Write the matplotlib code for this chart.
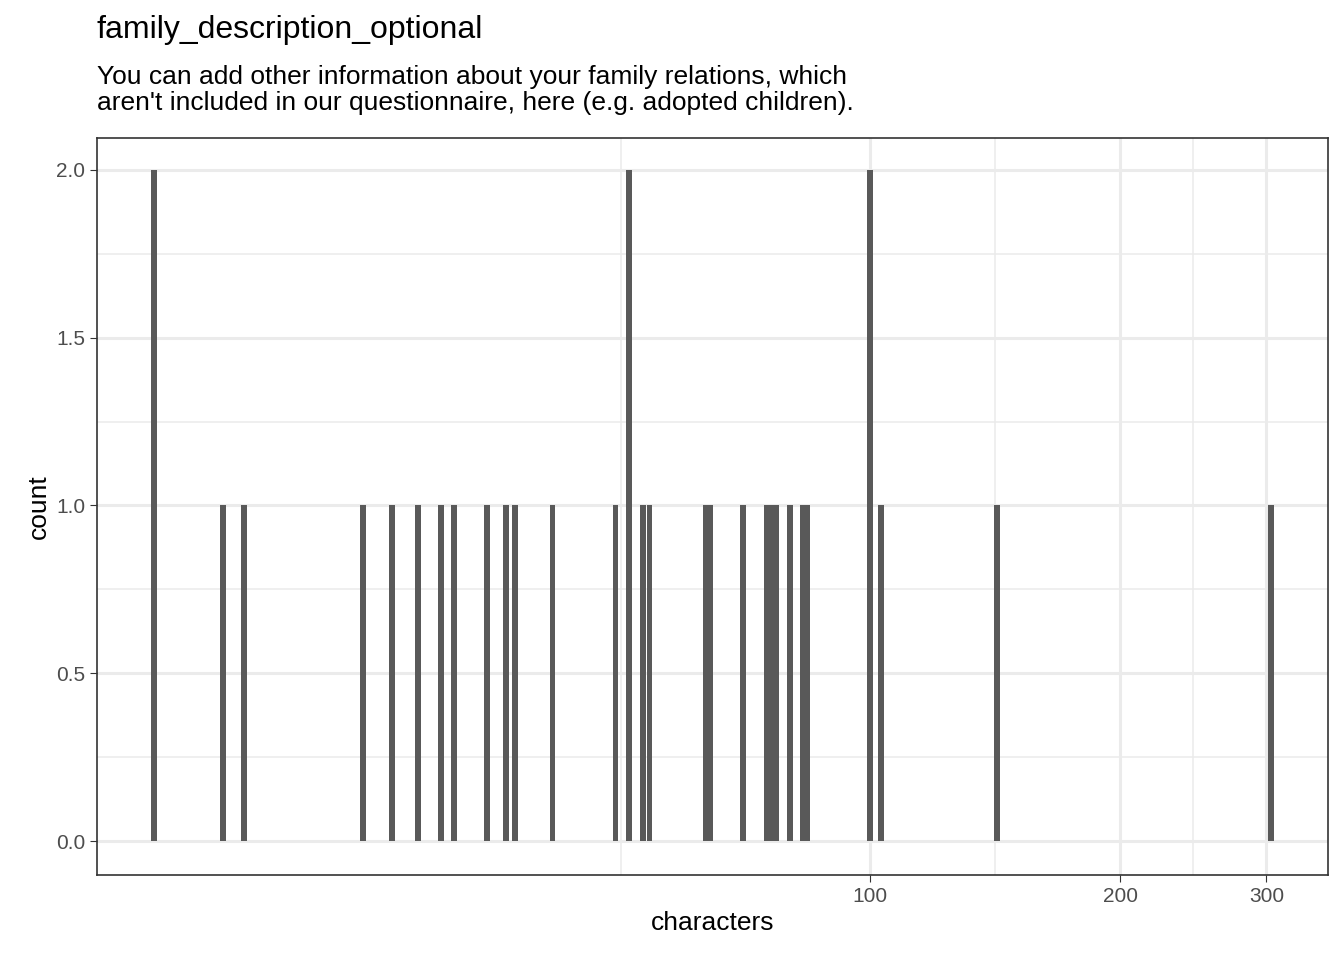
import numpy as np
import matplotlib.pyplot as plt

plt.rcParams['font.family'] = ['Liberation Sans', 'DejaVu Sans']

chars = [13.7, 16.6, 17.6, 24.5, 26.5, 28.5, 30.4, 31.5, 34.5, 36.4, 37.3, 41.4, 49.3, 51.2,
         53.2, 54.2, 63.3, 64.2, 70.2, 75, 76, 77, 80, 83, 84, 100, 103, 142, 304]
counts = [2, 1, 1, 1, 1, 1, 1, 1, 1, 1, 1, 1, 1, 2,
          1, 1, 1, 1, 1, 1, 1, 1, 1, 1, 1, 2, 1, 1, 1]

fig = plt.figure(figsize=(13.44, 9.6), dpi=100)
W, H = 1344, 960
ax = fig.add_axes([97 / W, 1 - 875 / H, (1328 - 97) / W, (875 - 138) / H])
ax.set_xscale("log")
x = np.array(chars)
w = x * (10 ** 0.0035 - 10 ** -0.0035)
ax.bar(x, counts, width=w, color="#595959", zorder=3)

ax.set_xlim(11.7, 356)
ax.set_ylim(-0.101, 2.095)
ax.set_xticks([100, 200, 300])
ax.set_xticklabels(["100", "200", "300"])
ax.set_xticks([50, 141.4, 244.9], minor=True)
ax.xaxis.set_minor_formatter(plt.NullFormatter())
ax.set_yticks([0, 0.5, 1, 1.5, 2])
ax.set_yticklabels(["0.0", "0.5", "1.0", "1.5", "2.0"])
ax.set_yticks([0.25, 0.75, 1.25, 1.75], minor=True)
ax.grid(which="major", color="#ebebeb", lw=2.2, zorder=0)
ax.grid(which="minor", color="#ebebeb", lw=1.1, zorder=0)
ax.tick_params(which="major", labelsize=15, labelcolor="#4d4d4d", color="#333333", length=5)
ax.tick_params(which="minor", length=0)
for s in ax.spines.values():
    s.set_color("#333333")
    s.set_linewidth(1.2)

ax.set_xlabel("characters", fontsize=19)
ax.set_ylabel("count", fontsize=19)
fig.text(97 / W, 1 - 30 / H, "family_description_optional", fontsize=23, va="center")
fig.text(97 / W, 1 - 90 / H,
         "You can add other information about your family relations, which\n"
         "aren't included in our questionnaire, here (e.g. adopted children).",
         fontsize=19, va="center", linespacing=1.1)
fig.savefig("out.png", dpi=100)
